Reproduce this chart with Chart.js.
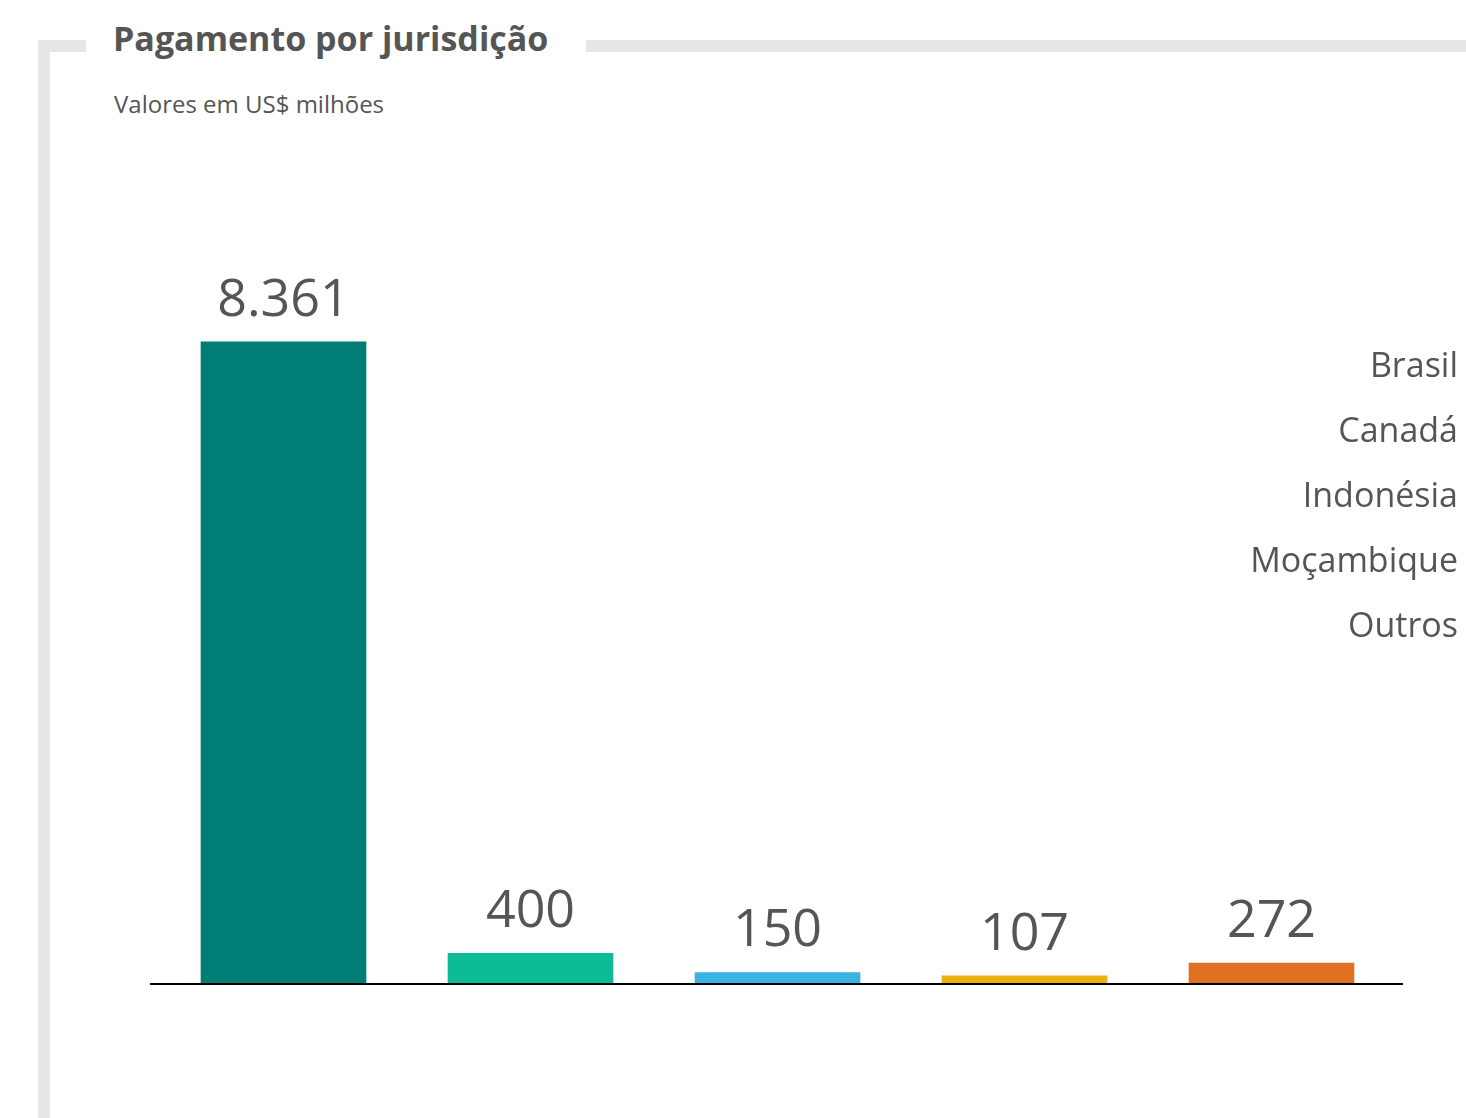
<!DOCTYPE html>
<html lang="pt-BR">
<head>
<meta charset="utf-8">
<title>Pagamento por jurisdição</title>
<script src="https://cdn.jsdelivr.net/npm/chart.js@4/dist/chart.umd.min.js"></script>
<style>
  html, body { margin: 0; padding: 0; background: #fff; }
  body { width: 1466px; height: 1118px; position: relative; overflow: hidden; font-family: "Open Sans", sans-serif; }
  .frame {
    position: absolute; left: 38px; top: 40px; width: 1416px; height: 1078px;
    border-left: 12px solid #e6e6e6; border-top: 12px solid #e6e6e6;
  }
  .title {
    position: absolute; left: 86px; top: 14px; padding: 0 38px 0 27px;
    background: #fff; color: #555; font-weight: 700; font-size: 34px; line-height: 48px;
    white-space: nowrap;
  }
  .subtitle {
    position: absolute; left: 114px; top: 87px; color: #555; font-size: 24px; line-height: 34px;
    white-space: nowrap;
  }
  canvas { position: absolute; left: 0; top: 0; }
</style>
</head>
<body>
<div class="frame"></div>
<div class="title">Pagamento por jurisdição</div>
<div class="subtitle">Valores em US$ milhões</div>
<canvas id="chart" width="1466" height="1118"></canvas>
<script>
// dados (US$ milhões)
const jurisdicoes = ["Brasil", "Canadá", "Indonésia", "Moçambique", "Outros"];
const valores = [8361, 400, 150, 107, 272];
const cores = ["#007d75", "#0bbc96", "#3ab3e3", "#ecb010", "#e07122"];

const textColor = "#555555";

function formatBR(v) {
  return String(v).replace(/\B(?=(\d{3})+(?!\d))/g, ".");
}

// valores em cima de cada barra + linha de base
const valueLabels = {
  id: "valueLabels",
  afterDatasetsDraw(chart) {
    const ctx = chart.ctx;
    const area = chart.chartArea;
    const meta = chart.getDatasetMeta(0);
    ctx.save();
    // linha de base, um pouco mais larga que a área das barras
    ctx.strokeStyle = "#000";
    ctx.lineWidth = 2;
    ctx.beginPath();
    ctx.moveTo(area.left - 10, area.bottom);
    ctx.lineTo(area.right + 8, area.bottom);
    ctx.stroke();

    ctx.fillStyle = textColor;
    ctx.font = "400 52px 'Open Sans'";
    ctx.textAlign = "center";
    ctx.textBaseline = "alphabetic";
    meta.data.forEach((bar, i) => {
      ctx.fillText(formatBR(valores[i]), bar.x, bar.y - 26);
    });
    ctx.restore();
  },
};

// nomes das jurisdições, alinhados à direita
const sideLegend = {
  id: "sideLegend",
  afterDraw(chart) {
    const ctx = chart.ctx;
    ctx.save();
    ctx.fillStyle = textColor;
    ctx.font = "400 34px 'Open Sans'";
    ctx.textAlign = "right";
    ctx.textBaseline = "middle";
    jurisdicoes.forEach((name, i) => {
      ctx.fillText(name, 1458, 367 + i * 65);
    });
    ctx.restore();
  },
};

new Chart(document.getElementById("chart"), {
  type: "bar",
  data: {
    labels: jurisdicoes,
    datasets: [
      {
        data: valores,
        backgroundColor: cores,
        borderWidth: 0,
        barThickness: 165,
      },
    ],
  },
  options: {
    responsive: false,
    animation: false,
    layout: {
      padding: { left: 160, right: 71, top: 216, bottom: 134 },
    },
    scales: {
      x: {
        display: false,
      },
      y: {
        display: false,
        min: 0,
        max: 10000,
      },
    },
    plugins: {
      legend: { display: false },
      tooltip: { enabled: false },
    },
  },
  plugins: [valueLabels, sideLegend],
});
</script>
</body>
</html>
